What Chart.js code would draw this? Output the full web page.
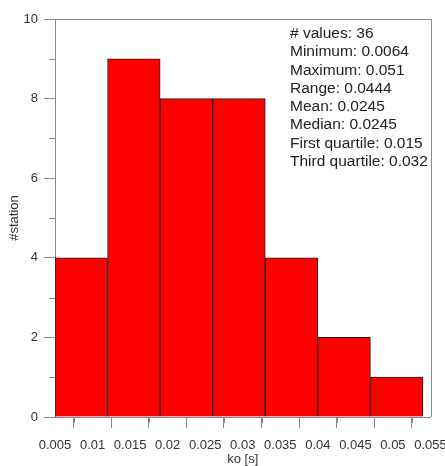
<!DOCTYPE html>
<html>
<head>
<meta charset="utf-8">
<script src="https://cdn.jsdelivr.net/npm/chart.js@4.4.1/dist/chart.umd.min.js"></script>
<style>
    html, body { margin: 0; padding: 0; background: #fff; }
    #wrap { position: relative; width: 445px; height: 466px; }
    #stats {
        position: absolute;
        left: 290px;
        top: 24px;
        font-family: Arial, "Liberation Sans", sans-serif;
        font-size: 15.5px;
        line-height: 18.3px;
        color: #222;
        white-space: nowrap;
    }
</style>
</head>
<body>
<div id="wrap">
    <canvas id="histChart" width="445" height="466"></canvas>
    <div id="stats"></div>
</div>
<script>
// Histogram bins (ko in seconds) and station counts
const binEdges = [0.005, 0.012, 0.019, 0.026, 0.033, 0.040, 0.047, 0.054];
const stationCounts = [4, 9, 8, 8, 4, 2, 1];

// Axis ranges and ticks
const xMin = 0.005, xMax = 0.055, xStep = 0.005;
const yMin = 0, yMax = 10, yStep = 2;
const xMinorTicks = [0.0075, 0.0125, 0.0175, 0.0225, 0.0275, 0.0325, 0.0375, 0.0425, 0.0475, 0.0525];
const yMinorTicks = [1, 3, 5, 7, 9];

// Summary statistics box
const statLines = [
    '# values: 36',
    'Minimum: 0.0064',
    'Maximum: 0.051',
    'Range: 0.0444',
    'Mean: 0.0245',
    'Median: 0.0245',
    'First quartile: 0.015',
    'Third quartile: 0.032'
];

const axisColor = '#8a8a8a';
const textColor = '#333';
const FONT = 'Arial, "Liberation Sans", sans-serif';

document.getElementById('stats').innerHTML = statLines.join('<br>');

const barData = stationCounts.map((count, i) => ({
    x: (binEdges[i] + binEdges[i + 1]) / 2,
    y: count
}));

// Minor ticks plus the top/right frame lines
const frameAndMinorTicks = {
    id: 'frameAndMinorTicks',
    afterDraw(chart) {
        const { ctx, chartArea, scales } = chart;
        ctx.save();
        ctx.strokeStyle = axisColor;
        ctx.lineWidth = 1;
        ctx.beginPath();
        xMinorTicks.forEach(v => {
            const px = Math.round(scales.x.getPixelForValue(v)) + 0.5;
            ctx.moveTo(px, chartArea.bottom);
            ctx.lineTo(px, chartArea.bottom + 6);
        });
        yMinorTicks.forEach(v => {
            const py = Math.round(scales.y.getPixelForValue(v)) + 0.5;
            ctx.moveTo(chartArea.left, py);
            ctx.lineTo(chartArea.left - 6, py);
        });
        // top and right edges of the plot box
        const top = Math.round(chartArea.top) + 0.5;
        const right = Math.round(chartArea.right) + 0.5;
        ctx.moveTo(chartArea.left, top);
        ctx.lineTo(right, top);
        ctx.lineTo(right, chartArea.bottom);
        ctx.stroke();
        ctx.restore();
    }
};

new Chart(document.getElementById('histChart'), {
    type: 'bar',
    data: {
        datasets: [{
            label: '#station',
            data: barData,
            backgroundColor: '#ff0000',
            borderColor: '#222',
            borderWidth: 1,
            barThickness: 'flex',
            barPercentage: 1,
            categoryPercentage: 1
        }]
    },
    options: {
        responsive: false,
        animation: false,
        events: [],
        layout: { padding: { top: 19, right: 14.5, left: 0, bottom: 0 } },
        plugins: {
            legend: { display: false },
            tooltip: { enabled: false }
        },
        scales: {
            x: {
                type: 'linear',
                min: xMin,
                max: xMax,
                offset: false,
                afterFit: scale => {
                    scale.height = 49;
                    // let the end labels hang past the plot box
                    scale.paddingLeft = 0;
                    scale.paddingRight = 0;
                },
                grid: {
                    drawOnChartArea: false,
                    tickLength: 11,
                    color: axisColor
                },
                border: { color: axisColor },
                ticks: {
                    stepSize: xStep,
                    autoSkip: false,
                    maxRotation: 0,
                    padding: 10,
                    color: textColor,
                    font: { family: FONT, size: 13 },
                    callback: v => String(Number(v.toFixed(4)))
                },
                title: {
                    display: true,
                    text: 'ko [s]',
                    color: textColor,
                    font: { family: FONT, size: 13 },
                    padding: { top: 0, bottom: -1 }
                }
            },
            y: {
                min: yMin,
                max: yMax,
                afterFit: scale => { scale.width = 55; },
                grid: {
                    drawOnChartArea: false,
                    tickLength: 11,
                    color: axisColor
                },
                border: { color: axisColor },
                ticks: {
                    stepSize: yStep,
                    padding: 6,
                    color: textColor,
                    font: { family: FONT, size: 13 }
                },
                title: {
                    display: true,
                    text: '#station',
                    color: textColor,
                    font: { family: FONT, size: 13 },
                    padding: { top: 7, bottom: 0 }
                }
            }
        }
    },
    plugins: [frameAndMinorTicks]
});
</script>
</body>
</html>
